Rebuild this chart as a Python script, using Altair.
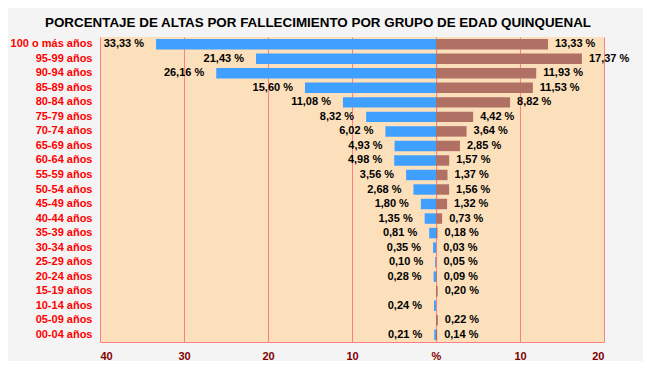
import altair as alt
import pandas as pd

categories = ["100 o más años", "95-99 años", "90-94 años", "85-89 años", "80-84 años",
              "75-79 años", "70-74 años", "65-69 años", "60-64 años", "55-59 años",
              "50-54 años", "45-49 años", "40-44 años", "35-39 años", "30-34 años",
              "25-29 años", "20-24 años", "15-19 años", "10-14 años", "05-09 años",
              "00-04 años"]
left_values = [33.33, 21.43, 26.16, 15.60, 11.08, 8.32, 6.02, 4.93, 4.98, 3.56,
               2.68, 1.80, 1.35, 0.81, 0.35, 0.10, 0.28, None, 0.24, None, 0.21]
right_values = [13.33, 17.37, 11.93, 11.53, 8.82, 4.42, 3.64, 2.85, 1.57, 1.37,
                1.56, 1.32, 0.73, 0.18, 0.03, 0.05, 0.09, 0.20, None, 0.22, 0.14]
tick_values = [-40, -30, -20, -10, 0, 10, 20]

rows = []
for c, lv, rv in zip(categories, left_values, right_values):
    if lv is not None:
        rows.append({"cat": c, "side": "izq", "x": -lv, "zero": 0,
                     "label": f"{lv:.2f}".replace(".", ",") + " %"})
    if rv is not None:
        rows.append({"cat": c, "side": "der", "x": rv, "zero": 0,
                     "label": f"{rv:.2f}".replace(".", ",") + " %"})
df = pd.DataFrame(rows)

FONT = "Liberation Sans"

xenc = alt.X("x:Q", scale=alt.Scale(domain=[-40, 20], nice=False, zero=False),
             axis=alt.Axis(values=tick_values, title=None, grid=True, gridColor="#ff8080",
                           gridWidth=1, gridOpacity=1, ticks=False, domain=True,
                           domainColor="#ff8080", domainWidth=1,
                           labelExpr="datum.value == 0 ? '%' : format(abs(datum.value), 'd')",
                           labelFont=FONT, labelFontSize=11, labelFontWeight="bold",
                           labelColor="#800000", labelPadding=8))
yenc = alt.Y("cat:N", sort=categories,
             scale=alt.Scale(paddingInner=0.28, paddingOuter=0.14),
             axis=alt.Axis(title=None, ticks=False, domain=False, grid=False,
                           labelFont=FONT, labelFontSize=11, labelFontWeight="bold",
                           labelColor="#ff0000", labelPadding=8))

base = alt.Chart(df)
bars = base.mark_bar().encode(
    x=xenc, x2="zero:Q", y=yenc,
    color=alt.Color("side:N", scale=alt.Scale(domain=["izq", "der"],
                                              range=["#40a0ff", "#b07064"]), legend=None),
)
ltext = base.transform_filter(alt.datum.side == "izq").mark_text(
    align="right", baseline="middle", dx=-12, font=FONT, fontSize=11, fontWeight="bold",
    color="#000000").encode(x="x:Q", y=alt.Y("cat:N", sort=categories), text="label:N")
rtext = base.transform_filter(alt.datum.side == "der").mark_text(
    align="left", baseline="middle", dx=7, font=FONT, fontSize=11, fontWeight="bold",
    color="#000000").encode(x="x:Q", y=alt.Y("cat:N", sort=categories), text="label:N")

chart = alt.layer(bars, ltext, rtext).properties(
    width=504, height=305,
    autosize=alt.AutoSizeParams(type="none"),
    padding={"left": 92, "top": 29, "right": 39, "bottom": 19},
    background="#f4f4f4",
    title=alt.TitleParams("PORCENTAJE DE ALTAS POR FALLECIMIENTO POR GRUPO DE EDAD QUINQUENAL",
                          font=FONT, fontSize=13.4, fontWeight="bold", color="#000000",
                          anchor="middle", baseline="alphabetic", offset=-3, dx=-34),
).configure_view(fill="#fce0bc", stroke=None)

chart.save("out.html", embed_options={"renderer": "svg", "actions": False})
